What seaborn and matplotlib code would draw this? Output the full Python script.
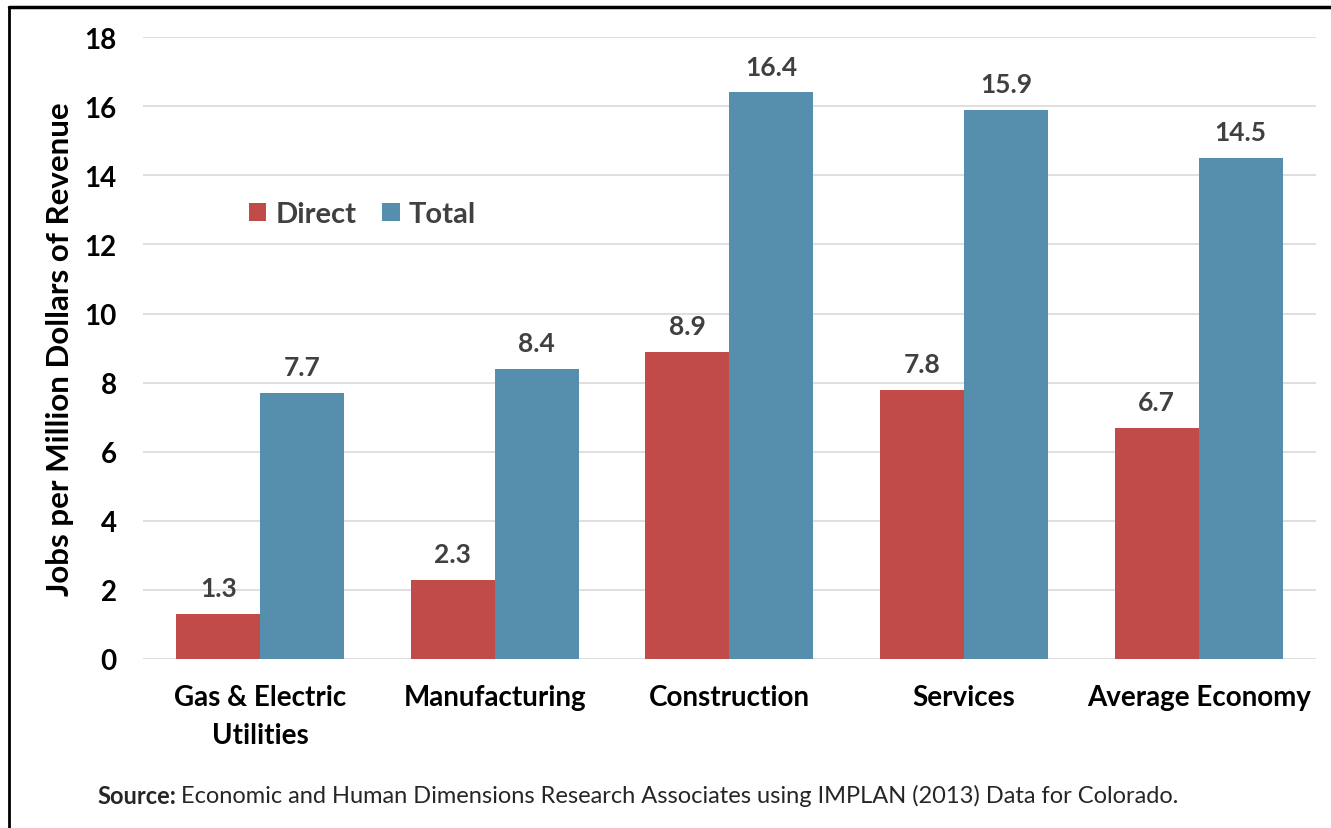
import matplotlib
matplotlib.use("Agg")
import matplotlib.pyplot as plt
import seaborn as sns
import pandas as pd
from matplotlib.lines import Line2D

categories = ["Gas & Electric\nUtilities", "Manufacturing", "Construction", "Services", "Average Economy"]
direct = [1.3, 2.3, 8.9, 7.8, 6.7]
total = [7.7, 8.4, 16.4, 15.9, 14.5]
series_names = ["Direct", "Total"]
yticks = [0, 2, 4, 6, 8, 10, 12, 14, 16, 18]

df = pd.DataFrame({
    "category": categories * 2,
    "series": [series_names[0]] * len(categories) + [series_names[1]] * len(categories),
    "value": direct + total,
})

sns.set_theme(style="white")
plt.rcParams["font.family"] = ["Lato", "DejaVu Sans"]

fig = plt.figure(figsize=(13.31, 8.29), dpi=100)
ax = fig.add_axes([0.1074, 0.2039, 0.8813, 0.7501])

palette = {"Direct": "#C04B48", "Total": "#558FAD"}
sns.barplot(data=df, x="category", y="value", hue="series", palette=palette,
            width=0.716, saturation=1, ax=ax, legend=True, gap=0, linewidth=0)

ax.set_ylim(0, 18)
ax.set_xlim(-0.5, 4.5)
ax.set_yticks(yticks)
ax.set_yticklabels([str(t) for t in yticks], fontsize=20, fontweight="bold", color="black")
ax.tick_params(axis="y", length=0, pad=19)
ax.tick_params(axis="x", length=0, pad=18, labelsize=20)
for lbl in ax.get_xticklabels():
    lbl.set_fontweight("bold")
    lbl.set_color("black")
    lbl.set_linespacing(1.55)
ax.grid(axis="y", color="#D9D9D9", linewidth=1.2)
ax.set_axisbelow(True)
for s in ax.spines.values():
    s.set_visible(False)
ax.set_xlabel("")
ax.set_ylabel("Jobs per Million Dollars of Revenue", fontsize=22.5, fontweight="bold",
              color="black", labelpad=7)

for cont in ax.containers:
    ax.bar_label(cont, fmt="%.1f", padding=10, fontsize=19, fontweight="bold", color="#404040")

leg = ax.legend(loc="center left", bbox_to_anchor=(0.068, 0.715), ncol=2, frameon=False,
                handlelength=0.6, handleheight=0.6, columnspacing=0.9,
                handletextpad=0.3, prop={"weight": "bold", "size": 21})
for t in leg.get_texts():
    t.set_color("#404040")

src_y = 0.0395
t1 = fig.text(97/1331, src_y, "Source:", fontsize=17, fontweight="bold", ha="left", va="center")
fig.canvas.draw()
bb = t1.get_window_extent()
x2 = (bb.x1 + 5) / fig.bbox.width
fig.text(x2, src_y, "Economic and Human Dimensions Research Associates using IMPLAN (2013) Data for Colorado.",
         fontsize=17, ha="left", va="center")

# frame
fig.add_artist(Line2D([9/1331, 1.0], [1 - 8/829, 1 - 8/829], color="black", linewidth=2.5, transform=fig.transFigure))
fig.add_artist(Line2D([9/1331, 9/1331], [0, 1 - 8/829], color="black", linewidth=2, transform=fig.transFigure))

fig.savefig("out.png", dpi=100)
